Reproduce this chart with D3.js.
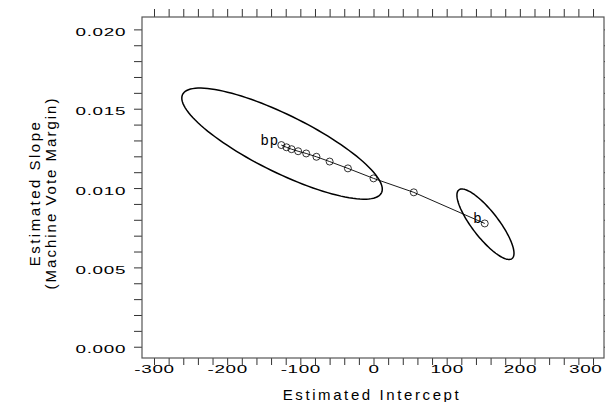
<!DOCTYPE html>
<html>
<head>
<meta charset="utf-8">
<script src="https://cdn.jsdelivr.net/npm/d3@7/dist/d3.min.js"></script>
<style>
  body { margin: 0; background: #fff; }
  text { font-family: "Liberation Sans", Arial, Helvetica, sans-serif; fill: #000; }
</style>
</head>
<body>
<script>
// path of estimates, from "bp" to "b"
var pathX = [-126, -119, -112, -103, -92, -78, -60, -35, 0, 55, 152];
var pathY = [0.01271, 0.01257, 0.01245, 0.01232, 0.01218, 0.01197, 0.01167, 0.01124, 0.01061, 0.00973, 0.00777];

// confidence ellipses: centre, half-widths, correlation
var ellCx = [-125, 153];
var ellCy = [0.0128, 0.00772];
var ellSx = [137, 39];
var ellSy = [0.0035, 0.00222];
var ellRho = [-0.82, -0.825];

var labels = ["bp", "b"];
var labelAt = [0, 10];

var xTicks = [-300, -200, -100, 0, 100, 200, 300];
var yTicks = [0.000, 0.005, 0.010, 0.015, 0.020];

var width = 605, height = 402;
var x = d3.scaleLinear().domain([-316.4, 315]).range([142, 604]);
var y = d3.scaleLinear().domain([-0.00071, 0.02078]).range([358, 17]);

var svg = d3.select("body").append("svg")
    .attr("width", width)
    .attr("height", height);

var minorX = d3.range(-300, 301, 20);
var minorY = d3.range(0, 21).map(function(i) { return i / 1000; });
var sx = 1.6;

// bottom axis
var gBottom = svg.append("g")
    .attr("transform", "translate(0,358)")
    .call(d3.axisBottom(x).tickValues(minorX).tickSize(7).tickSizeOuter(0)
        .tickFormat(function(d) { return xTicks.indexOf(d) >= 0 ? String(d) : ""; }));
gBottom.select(".domain").remove();
gBottom.selectAll("line").attr("stroke", "#333");
gBottom.selectAll("text")
    .attr("y", 15.5).attr("dy", 0)
    .attr("font-size", 11.8)
    .attr("letter-spacing", 0.4)
    .attr("transform", "scale(" + sx + ",1)");
// last label is pulled in so it stays inside the page
gBottom.selectAll(".tick text")
    .filter(function(d) { return d === xTicks[xTicks.length - 1]; })
    .attr("text-anchor", "end")
    .attr("x", (602 - x(xTicks[xTicks.length - 1])) / sx);

// top axis
var gTop = svg.append("g")
    .attr("transform", "translate(0,17)")
    .call(d3.axisTop(x).tickValues(minorX).tickSize(8).tickSizeOuter(0).tickFormat(""));
gTop.select(".domain").remove();
gTop.selectAll("line").attr("stroke", "#333");

// left axis
var gLeft = svg.append("g")
    .attr("transform", "translate(142,0)")
    .call(d3.axisLeft(y).tickValues(minorY).tickSize(8).tickSizeOuter(0)
        .tickFormat(function(d) {
            var hit = yTicks.some(function(t) { return Math.abs(t - d) < 1e-9; });
            return hit ? d3.format(".3f")(d) : "";
        }));
gLeft.select(".domain").remove();
gLeft.selectAll("line").attr("stroke", "#333");
gLeft.selectAll("text")
    .attr("x", -16 / sx).attr("dy", 0).attr("y", 6)
    .attr("font-size", 11.8)
    .attr("letter-spacing", 0.4)
    .attr("transform", "scale(" + sx + ",1)");

// right axis (ticks fall outside the window)
var gRight = svg.append("g")
    .attr("transform", "translate(604,0)")
    .call(d3.axisRight(y).tickValues(minorY).tickSize(8).tickSizeOuter(0).tickFormat(""));
gRight.select(".domain").remove();
gRight.selectAll("line").attr("stroke", "#333");

// frame
svg.append("rect")
    .attr("x", 142).attr("y", 17)
    .attr("width", 604 - 142).attr("height", 358 - 17)
    .attr("fill", "none")
    .attr("stroke", "#555")
    .attr("stroke-width", 1.2);

// ellipses
var ellipses = d3.range(ellCx.length).map(function(i) {
    return d3.range(0, 361, 3).map(function(a) {
        var t = a * Math.PI / 180;
        return [ellCx[i] + ellSx[i] * Math.cos(t),
                ellCy[i] + ellSy[i] * (ellRho[i] * Math.cos(t) + Math.sqrt(1 - ellRho[i] * ellRho[i]) * Math.sin(t))];
    });
});
var line = d3.line()
    .x(function(d) { return x(d[0]); })
    .y(function(d) { return y(d[1]); });

svg.selectAll("path.ell")
    .data(ellipses)
    .enter().append("path")
    .attr("class", "ell")
    .attr("d", function(d) { return line(d) + "Z"; })
    .attr("fill", "none")
    .attr("stroke", "#000")
    .attr("stroke-width", 1.5);

var pts = pathX.map(function(v, i) { return [v, pathY[i]]; });

svg.append("path")
    .attr("d", line(pts))
    .attr("fill", "none")
    .attr("stroke", "#000")
    .attr("stroke-width", 0.9);

svg.selectAll("circle.pt")
    .data(pts)
    .enter().append("circle")
    .attr("class", "pt")
    .attr("cx", function(d) { return x(d[0]); })
    .attr("cy", function(d) { return y(d[1]); })
    .attr("r", 3.5)
    .attr("fill", "none")
    .attr("stroke", "#000")
    .attr("stroke-width", 0.8);

svg.selectAll("text.lab")
    .data(labels)
    .enter().append("text")
    .attr("class", "lab")
    .attr("x", function(d, i) { return x(pts[labelAt[i]][0]) - 2; })
    .attr("y", function(d, i) { return y(pts[labelAt[i]][1]); })
    .attr("text-anchor", "end")
    .attr("font-size", 14)
    .attr("letter-spacing", 1.5)
    .text(function(d) { return d; });

// axis titles
svg.append("text")
    .attr("x", 372).attr("y", 400)
    .attr("text-anchor", "middle")
    .attr("font-size", 15)
    .attr("letter-spacing", 2.6)
    .text("Estimated Intercept");

svg.append("text")
    .attr("transform", "translate(40,193) rotate(-90)")
    .attr("text-anchor", "middle")
    .attr("font-size", 15)
    .attr("letter-spacing", 2.5)
    .text("Estimated Slope");

svg.append("text")
    .attr("transform", "translate(56,193) rotate(-90)")
    .attr("text-anchor", "middle")
    .attr("font-size", 15)
    .attr("letter-spacing", 2)
    .text("(Machine Vote Margin)");
</script>
</body>
</html>
